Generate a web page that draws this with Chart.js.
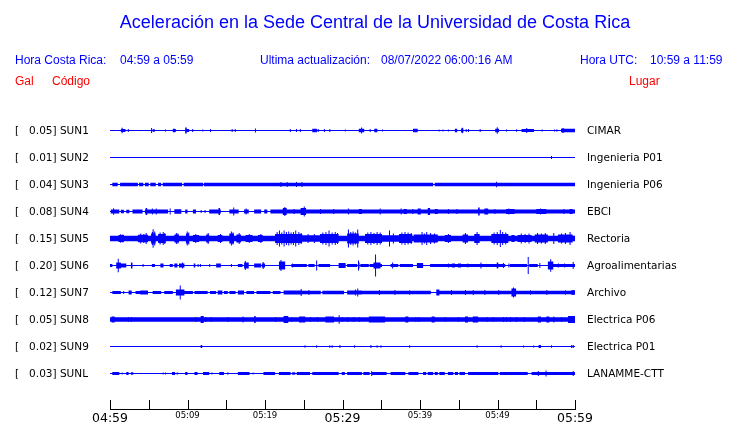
<!DOCTYPE html>
<html>
<head>
<meta charset="utf-8">
<script src="https://cdn.jsdelivr.net/npm/chart.js@4.4.0/dist/chart.umd.min.js"></script>
<style>
	body { margin: 0; background: #fff; }
	#chart { display: block; }
</style>
</head>
<body>
<canvas id="chart" width="740" height="423"></canvas>
<script>
// station rows, top to bottom
const stations = ['SUN1', 'SUN2', 'SUN3', 'SUN4', 'SUN5', 'SUN6', 'SUN7', 'SUN8', 'SUN9', 'SUNL'];
const places = ['CIMAR', 'Ingenieria P01', 'Ingenieria P06', 'EBCI', 'Rectoria', 'Agroalimentarias', 'Archivo', 'Electrica P06', 'Electrica P01', 'LANAMME-CTT'];
const peakGal = ['0.05', '0.01', '0.04', '0.08', '0.15', '0.20', '0.12', '0.05', '0.02', '0.03'];

// minutes after 04:59, one tick every 5 min
const timeLabels = ['04:59', '', '05:09', '', '05:19', '', '05:29', '', '05:39', '', '05:49', '', '05:59'];

// envelope of each trace: [from, to, amplitude] bursts or [minute, amplitude] single spikes
const sun1 = [[1.4, 2.0, 1.5], [1.5, 2.8], [2.3, 1.5], [5.3, 2.5], [5.5, 5.8, 1.3], [7.1, 1], [8.1, 8.5, 1.5], [8.2, 2], [9.7, 9.9, 3], [9.9, 10.2, 1.5], [10.6, 1.5], [11.9, 1], [12.9, 1.5], [15.7, 1.5], [16.1, 1.5], [18.7, 2], [23.2, 1.5], [24.0, 1.5], [24.5, 1.5], [26.1, 26.7, 1.8], [26.8, 1.5], [27.6, 1.5], [28.3, 1.5], [30.3, 1], [32.1, 32.8, 1.8], [32.4, 3], [33.5, 1.5], [34.1, 34.5, 1.8], [35.1, 1], [39.1, 39.7, 1.8], [42.4, 1], [42.9, 1], [43.6, 1], [44.5, 44.8, 1.8], [45.3, 45.6, 2], [45.4, 2.8], [45.9, 1.5], [46.2, 1.5], [47.7, 1.5], [49.7, 50.2, 1.8], [49.9, 3.3], [51.1, 1], [52.4, 1.2], [53.1, 54.7, 1.6], [53.7, 2.5], [55.7, 1], [57.3, 1], [57.6, 1.2], [58.2, 60, 1.8], [58.3, 58.6, 2.3]];
const sun2 = [[56.9, 1.5]];
const sun3 = [[0.3, 1.0, 1.8], [1.3, 3.6, 1.8], [3.75, 4.3, 1.8], [4.5, 5.0, 1.8], [5.2, 5.9, 1.8], [6.2, 6.6, 1.8], [6.8, 9.3, 1.8], [9.5, 12.0, 1.8], [12.1, 41.7, 1.8], [41.9, 60, 1.8], [22.0, 2.5], [22.8, 2.5], [24.0, 2.5], [24.7, 2.5], [49.8, 2.8]];
const sun4 = [[0.1, 1.2, 2], [1.4, 1.8, 1.8], [2.1, 2.5, 1.8], [2.9, 4.2, 2], [4.5, 7.5, 2], [8.3, 9.2, 2.2], [9.7, 10.0, 2], [10.7, 11.1, 2], [12.8, 14.3, 2], [15.4, 16.6, 2], [17.3, 17.9, 2], [18.6, 19.5, 2], [19.9, 20.3, 2], [20.7, 60, 2],
	[0.4, 3.3], [4.6, 4.8, 3.5], [5.4, 3], [5.9, 3], [7.7, 3], [11.7, 1.5], [12.2, 1.5], [14.0, 14.2, 3.5], [15.9, 4], [17.5, 3], [22.3, 22.8, 3.5], [22.5, 4.5], [23.7, 2.5], [24.6, 25.3, 3.5], [25.0, 5], [27.1, 2.5], [28.8, 2.5], [30.7, 3], [32.1, 32.5, 2.5], [34.8, 3], [37.5, 3], [37.9, 38.3, 2.5], [39.0, 2.5], [39.7, 40.1, 3], [41.0, 41.3, 3.5], [41.9, 42.3, 2.5], [43.6, 2.5], [44.7, 2.5], [47.5, 47.7, 4], [48.3, 48.8, 3], [49.6, 2.5], [51.1, 52.2, 2.5], [51.4, 3], [55.0, 56.3, 2.5], [55.5, 3], [58.5, 2.5], [59.3, 59.7, 2.5]];
const sun5 = [[0, 60, 2.8], [1.1, 1.8, 3.5], [1.3, 4.2], [1.6, 4], [3.6, 4.9, 3.8], [3.9, 5], [4.3, 4.5], [4.6, 5.5], [5.3, 5.9, 5], [5.4, 6.5], [5.5, 9.3], [5.7, 7], [6.2, 7.2, 4.5], [6.4, 6], [6.8, 6.5], [7.0, 5.5], [8.3, 8.9, 4], [8.5, 5.5], [8.7, 5], [9.8, 10.2, 5], [9.9, 7], [10.1, 6], [10.7, 11.5, 3.5], [11.0, 4.5], [12.4, 12.8, 4], [12.6, 5.5], [13.9, 14.5, 3.5], [14.2, 4.5], [15.4, 16.0, 5], [15.6, 7], [15.8, 6], [16.3, 16.9, 4], [16.6, 5.5], [17.5, 18.4, 3.5], [17.9, 4.5], [19.1, 19.7, 3.5], [19.4, 4.5],
	[21.3, 24.8, 4.5], [21.5, 6.5], [21.8, 8], [22.1, 6], [22.4, 8], [22.7, 6.5], [23.0, 7], [23.3, 6], [23.6, 6.5], [23.9, 8], [24.3, 6.5], [24.6, 5.5], [24.8, 27.1, 3.3], [25.5, 4.5], [26.3, 4.5], [27.1, 29.5, 4.5], [27.4, 6], [27.8, 6.5], [28.2, 8], [28.6, 6], [29.0, 6.5], [29.3, 5.5], [30.6, 32.1, 5], [30.7, 9], [31.0, 6.5], [31.3, 7], [31.6, 6], [31.9, 9], [32.9, 35.1, 4.5], [33.2, 6], [33.6, 6.5], [34.0, 5.5], [34.4, 6.5], [34.8, 6], [35.1, 37.3, 3.3], [36.0, 8], [36.5, 5], [37.3, 39.0, 4.5], [37.6, 6], [38.0, 6.5], [38.4, 6], [38.8, 5.5], [39.2, 39.7, 4],
	[39.7, 42.3, 4], [40.2, 6.5], [40.5, 5], [40.8, 6.5], [41.3, 5.5], [41.8, 5], [43.2, 44.0, 3.5], [43.6, 4.5], [45.5, 46.2, 4], [45.8, 5.5], [47.0, 47.7, 4.5], [47.3, 6.5], [49.2, 51.4, 4.5], [49.5, 6], [49.9, 6.5], [50.3, 8.5], [50.6, 6.5], [51.0, 6], [51.8, 52.2, 3.5], [52.6, 54.4, 3.5], [53.0, 5], [53.5, 4.5], [54.0, 5], [54.8, 56.5, 4], [55.1, 5.5], [55.6, 5], [56.1, 5.5], [57.2, 5.5], [57.8, 59.7, 4], [58.2, 5], [58.7, 5.5], [59.3, 6.5]];
const sun6 = [[0.0, 0.3, 1.5], [0.8, 1.4, 3], [1.0, 6.7], [1.4, 2.1, 2], [2.7, 2.9, 3], [4.2, 1.5], [5.4, 5.8, 1.5], [6.5, 6.9, 2], [7.7, 8.1, 1.5], [8.3, 8.7, 2], [8.9, 9.6, 2], [9.3, 3], [10.8, 11.0, 2], [11.3, 1.5], [11.6, 1.5], [12.8, 1.5], [13.7, 14.3, 2], [15.6, 1.5], [16.5, 17.1, 1.5], [17.3, 17.9, 3], [17.4, 4.5], [18.6, 19.5, 2], [19.6, 20.0, 2], [19.7, 3.5],
	[21.8, 22.6, 4], [22.0, 5.5], [23.4, 25.4, 1.5], [23.5, 2], [25.6, 26.4, 1.5], [26.6, 5], [26.9, 28.4, 1.5], [29.5, 30.4, 2.5], [30.6, 31.9, 1.5], [32.0, 32.2, 3], [32.0, 5], [32.3, 33.4, 1.5], [33.5, 35.1, 1.5], [34.0, 34.9, 3], [34.2, 11], [36.2, 37.2, 1.5], [36.4, 3], [37.4, 39.1, 1.5], [39.6, 40.4, 2.5],
	[41.3, 51.0, 1.5], [43.6, 2], [44.1, 44.5, 2], [44.9, 45.3, 2], [46.1, 2], [47.8, 3], [49.9, 50.1, 3], [50.7, 2.5], [51.4, 2], [51.6, 53.8, 1.5], [53.9, 8.5], [54.1, 55.2, 1.5], [55.4, 2.5], [56.5, 57.2, 4], [56.8, 6.3], [57.2, 60, 1.5], [57.8, 2], [58.6, 2], [59.7, 3.5]];
const sun7 = [[0.3, 1.4, 1.5], [1.7, 1.5], [2.4, 2.8, 2], [3.3, 4.9, 1.5], [3.9, 4.9, 2], [5.5, 6.6, 1.5], [7.0, 8.1, 1.5], [8.5, 9.6, 3], [9.0, 7], [9.6, 10.7, 1.5], [10.9, 12.6, 1.5], [12.9, 13.7, 1.5], [13.9, 14.5, 2], [14.7, 15.2, 1.5], [15.4, 16.2, 1.5], [16.5, 17.3, 2], [17.6, 18.6, 1.5], [18.9, 19.9, 1.5],
	[19.6, 20.7, 1.5], [21.0, 22.0, 1.5], [22.4, 24.8, 2], [24.6, 3.5], [24.8, 27.2, 1.8], [25.6, 2.5], [27.4, 30.2, 1.8], [30.6, 32.5, 2], [31.6, 3], [31.9, 4], [32.5, 39.7, 1.8], [34.7, 2.5], [36.7, 2.5], [38.6, 2.2],
	[39.7, 41.4, 1.8], [42.1, 42.5, 3], [42.5, 51.8, 1.8], [44.0, 2.5], [45.8, 2.5], [46.8, 2.5], [48.3, 2.5], [50.1, 2.5], [51.8, 52.4, 4], [52.0, 5], [52.4, 60, 1.8], [54.2, 2.2], [56.3, 2.5], [58.7, 2.2], [59.5, 60, 2.2], [59.7, 2.5]];
const sun8 = [[0.0, 60, 2.2], [0.2, 0.6, 3], [2.3, 2.5], [2.7, 2.5], [11.0, 2.5], [11.7, 12.1, 3.5], [12.3, 2.5], [13.0, 2.5], [15.2, 2.5], [17.1, 3], [18.6, 18.8, 3.5], [21.3, 2.5], [22.4, 23.0, 3.5], [23.4, 2.5], [24.4, 25.2, 3], [25.8, 2.5], [26.7, 2.5], [27.8, 28.9, 3], [29.5, 4.2], [29.9, 2.5], [30.6, 2.5], [31.4, 2.5], [32.1, 2.5], [33.4, 35.5, 3], [38.1, 38.5, 3], [39.4, 2.5], [39.8, 2.5],
	[41.5, 41.9, 3], [43.2, 2.5], [44.9, 2.5], [45.8, 46.2, 3], [46.8, 47.5, 3], [48.6, 2.5], [49.4, 2.5], [50.7, 2.5], [51.1, 2.5], [51.6, 2.5], [52.4, 2.5], [53.4, 2.5], [55.2, 55.6, 3], [56.3, 56.7, 3], [57.2, 3], [58.2, 2.5], [59.1, 60, 3.5]];
const sun9 = [[11.7, 11.9, 1.5], [25.1, 1.2], [26.6, 1.2], [28.3, 1.2], [28.6, 1.2], [29.6, 1.5], [31.5, 1.2], [33.6, 1.5], [34.4, 1.2], [34.9, 1.2], [38.6, 1.2], [47.3, 1.2], [50.4, 1.2], [53.3, 1], [54.6, 1], [55.3, 55.6, 1.5], [56.9, 1.2], [59.5, 1.5], [59.7, 1.5]];
const sunL = [[0.3, 1.2, 1.5], [1.5, 1], [2.1, 2.4, 1.5], [2.7, 3.0, 1.2], [6.8, 1], [7.1, 1], [8.0, 8.4, 1.5], [8.6, 8.8, 1], [9.7, 10.0, 1.5], [10.9, 11.3, 1.5], [12.0, 12.8, 1.5], [13.1, 1], [14.1, 14.7, 1.5], [15.1, 15.3, 1], [16.5, 18.0, 1.5], [18.4, 1],
	[19.8, 21.3, 1.5], [21.8, 23.3, 1.5], [23.5, 23.9, 1.2], [24.1, 25.8, 1.5], [26.1, 29.5, 1.5], [29.9, 30.3, 1.5], [30.6, 32.5, 1.5], [32.7, 33.5, 1.5], [33.7, 2.5], [33.8, 35.7, 1.5], [36.2, 38.1, 1.5], [38.5, 39.8, 1.5],
	[40.4, 40.8, 1.5], [41.0, 41.7, 1.5], [41.9, 42.3, 1.5], [42.5, 43.2, 1.5], [43.6, 44.3, 1.5], [44.5, 44.9, 1.5], [45.1, 45.8, 1.5], [46.2, 50.1, 1.5], [50.3, 53.9, 1.5], [54.4, 60, 1.5], [55.2, 2.5], [56.2, 3], [59.7, 2.5]];

const traces = [sun1, sun2, sun3, sun4, sun5, sun6, sun7, sun8, sun9, sunL];

const BLUE = '#0000ff';
const BASE = 0.5;    // quiet trace half thickness
const SPIKE = 0.13;  // width of a single spike, in minutes
const ROW = 27;      // amplitude counts per row

// step envelope: at each interval take the largest burst covering it
function envelope(events) {
	const segs = events.map(e => e.length === 2 ? [e[0], e[0] + SPIKE, e[1]] : e);
	const cuts = [0, 60];
	segs.forEach(s => { cuts.push(s[0], Math.min(s[1], 60)); });
	const ts = [...new Set(cuts)].sort((a, b) => a - b);
	const out = [];
	for (let k = 0; k < ts.length - 1; k++) {
		const mid = (ts[k] + ts[k + 1]) / 2;
		let a = BASE;
		segs.forEach(s => { if (s[0] <= mid && mid < s[1] && s[2] > a) a = s[2]; });
		out.push([ts[k], a]);
	}
	out.push([60, out[out.length - 1][1]]);
	return out;
}

const datasets = [];
traces.forEach((ev, i) => {
	const env = envelope(ev);
	const common = { borderWidth: 0, borderColor: 'rgba(0,0,0,0)', backgroundColor: BLUE, pointRadius: 0, stepped: true };
	datasets.push(Object.assign({ data: env.map(p => ({ x: p[0], y: i - p[1] / ROW })), fill: '+1' }, common));
	datasets.push(Object.assign({ data: env.map(p => ({ x: p[0], y: i + p[1] / ROW })), fill: false }, common));
});

const decorations = {
	id: 'decorations',
	afterDraw(chart) {
		const { ctx, chartArea: a, scales: { x, y } } = chart;
		ctx.save();
		// time axis with upward ticks
		ctx.strokeStyle = '#000';
		ctx.lineWidth = 1;
		ctx.beginPath();
		ctx.moveTo(a.left, a.bottom + 0.5);
		ctx.lineTo(a.right + 1, a.bottom + 0.5);
		x.ticks.forEach(t => {
			const px = Math.round(x.getPixelForValue(t.value)) + 0.5;
			ctx.moveTo(px, a.bottom);
			ctx.lineTo(px, a.bottom - 9);
		});
		ctx.stroke();

		// row labels
		ctx.font = '10.5px "DejaVu Sans"';
		ctx.fillStyle = '#000';
		ctx.textBaseline = 'middle';
		stations.forEach((s, i) => {
			const py = y.getPixelForValue(i) + 1;
			ctx.textAlign = 'left';
			ctx.fillText('[   ' + peakGal[i] + '] ' + s, 15, py);
			ctx.fillText(places[i], 587, py);
		});

		// headings
		ctx.fillStyle = BLUE;
		ctx.font = '18px "Liberation Sans"';
		ctx.textAlign = 'center';
		ctx.fillText('Aceleración en la Sede Central de la Universidad de Costa Rica', 375, 23);
		ctx.font = '12px "Liberation Sans"';
		ctx.textAlign = 'left';
		ctx.fillText('Hora Costa Rica:', 15, 61);
		ctx.fillText('04:59 a 05:59', 120, 61);
		ctx.fillText('Ultima actualización:', 260, 61);
		ctx.fillText('08/07/2022 06:00:16 AM', 381, 61);
		ctx.fillText('Hora UTC:', 580, 61);
		ctx.fillText('10:59 a 11:59', 650, 61);
		ctx.fillStyle = '#ff0000';
		ctx.fillText('Gal', 15, 82);
		ctx.fillText('Código', 52, 82);
		ctx.fillText('Lugar', 629, 82);
		ctx.restore();
	}
};

const ctx = document.getElementById('chart').getContext('2d');
const chart = new Chart(ctx, {
	type: 'line',
	data: { datasets: datasets },
	plugins: [decorations],
	options: {
		responsive: false,
		devicePixelRatio: 1,
		animation: false,
		events: [],
		layout: { padding: { left: 110, right: 165, top: 103.5, bottom: 0 } },
		plugins: { legend: { display: false }, tooltip: { enabled: false } },
		scales: {
			x: {
				type: 'linear',
				min: 0,
				max: 60,
				border: { display: false },
				grid: { display: false },
				afterFit: s => { s.height = 14; },
				ticks: {
					stepSize: 5,
					autoSkip: false,
					maxRotation: 0,
					padding: -5,
					color: '#000',
					font: c => ({ family: 'DejaVu Sans', size: c.tick && c.tick.value % 30 === 0 ? 12.5 : 8.5, lineHeight: 1 }),
					callback: (v, i) => timeLabels[i]
				}
			},
			y: {
				display: false,
				reverse: true,
				min: -1,
				max: -1 + (409 - 103.5) / ROW
			}
		}
	}
});
</script>
</body>
</html>
